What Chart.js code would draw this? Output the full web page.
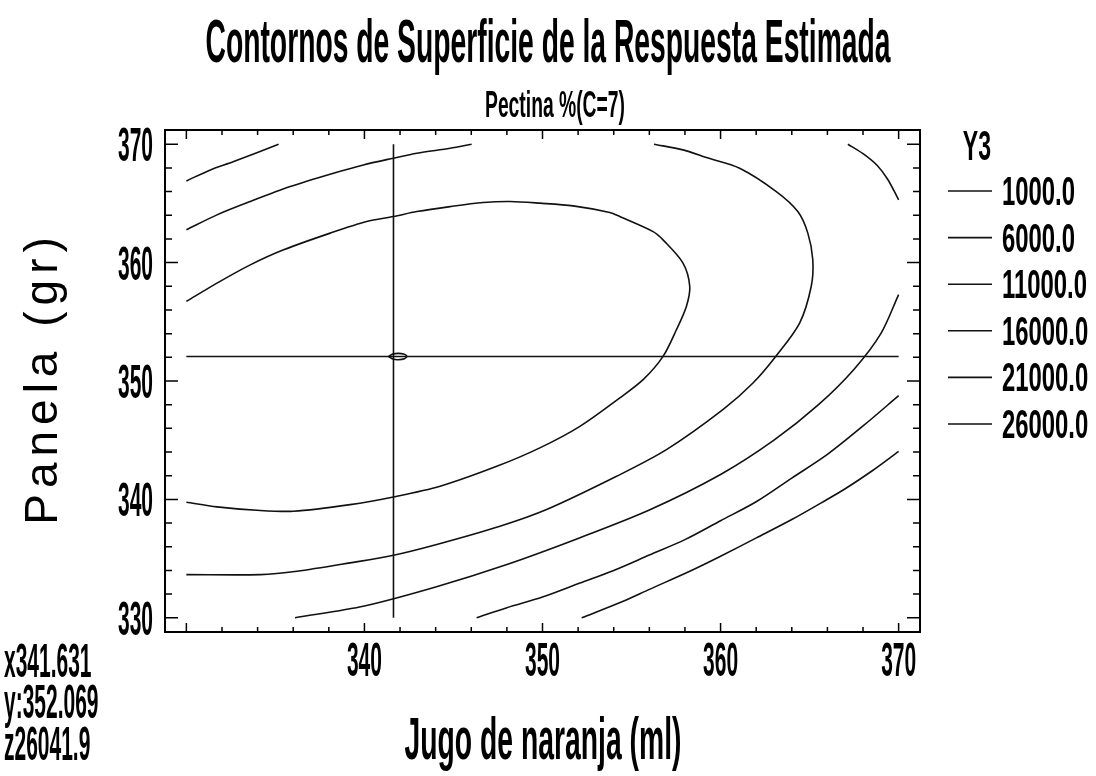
<!DOCTYPE html>
<html>
<head>
<meta charset="utf-8">
<script src="https://cdn.jsdelivr.net/npm/chart.js@4.4.0/dist/chart.umd.min.js"></script>
<style>
html,body{margin:0;padding:0;background:#fff;}
#wrap{width:1096px;height:776px;position:relative;}
</style>
</head>
<body>
<div id="wrap"><canvas id="c"></canvas></div>
<script>
// ---- DATA ----
const levels = [1000, 6000, 11000, 16000, 21000, 26000];

const c1000 = [[352.2,330.0],[354.53,331.40],[356.0,332.4],[358.27,333.93],[360.0,335.2],[362.01,336.75],[364.0,338.3],[365.93,339.95],[367.0,340.9],[368.5,342.4],[370.0,344.06]];

const c6000 = [[346.3,330.0],[348.0,330.85],[350.0,331.75],[352.10,332.93],[354.0,334.0],[356.0,335.3],[358.0,336.6],[360.0,338.2],[362.0,339.8],[364.0,341.8],[366.0,343.8],[368.0,346.2],[370.0,348.76]];

const c11000_a = [[330.0,366.90],[331.35,367.83],[332.66,368.53],[335.18,370.0]];
const c11000_b = [[367.15,370.0],[368.0,369.2],[368.8,368.2],[369.4,367.0],[370.0,365.3]];
const c11000_c = [[370.0,357.3],[369.0,354.0],[367.5,351.0],[365.5,348.0],[363.0,345.0],[360.0,342.1],[356.0,339.1],[352.0,336.7],[348.0,334.5],[344.0,332.6],[340.0,331.0],[336.1,330.0]];

const c16000_a = [[330.0,362.77],[331.72,364.03],[333.59,365.16],[335.83,366.42],[338.26,367.55],[339.94,368.25],[341.63,368.82],[342.94,369.24],[344.81,369.66],[346.02,370.0]];
const c16000_b = [[356.26,370.0],[357.89,369.52],[359.20,368.87],[361.07,367.97],[363.13,366.0],[364.34,364.31],[364.90,362.49],[365.18,360.24],[365.09,357.98],[364.44,354.89],[363.13,352.14],[361.82,349.83],[360.13,347.58],[356.96,344.20],[354.16,341.95],[350.23,339.14],[347.61,337.73],[344.06,336.19],[341.63,335.28],[339.20,334.64],[336.21,333.93],[334.15,333.65],[330.0,333.65]];

const c21000 = [[330.0,356.72],[331.72,358.27],[333.59,359.81],[335.46,361.08],[338.08,362.49],[340.13,363.47],[341.63,363.89],[342.94,364.31],[344.81,364.73],[346.67,365.07],[348.17,365.16],[349.85,365.02],[351.72,364.79],[353.78,364.23],[354.34,363.89],[356.21,362.62],[356.77,361.92],[357.89,359.96],[358.27,357.98],[358.08,356.30],[357.52,354.33],[356.77,352.08],[355.65,350.11],[354.34,348.57],[352.10,346.17],[349.85,344.35],[347.43,342.79],[344.25,341.11],[341.63,340.21],[339.20,339.56],[336.02,339.00],[333.97,339.08],[331.72,339.37],[330.0,339.76]];

const c26000 = [[341.35,352.07],[341.6,352.28],[341.9,352.33],[342.2,352.28],[342.38,352.10],[342.25,351.88],[341.9,351.80],[341.6,351.85],[341.35,352.07]];

const crossX = 341.631, crossY = 352.069, crossZ = 26041.9;
const gridMin = 330, gridMax = 370;

const minorTicks = [330,332,334,336,338,340,342,344,346,348,350,352,354,356,358,360,362,364,366,368,370];
const majorTicks = [330,340,350,360,370];
const xTickLabels = ['340','350','360','370'];
const xTickValues = [340,350,360,370];
const yTickLabels = ['330','340','350','360','370'];
const yTickValues = [330,340,350,360,370];

const titleText = 'Contornos de Superficie de la Respuesta Estimada';
const subtitleText = 'Pectina %(C=7)';
const xTitleText = 'Jugo de naranja (ml)';
const yTitleText = 'Panela (gr)';
const legendTitle = 'Y3';

// ---- build datasets ----
function toPts(segs){
  const out = [];
  segs.forEach((s,i)=>{
    if(i>0) out.push({x:null,y:null});
    s.forEach(p=>out.push({x:p[0],y:p[1]}));
  });
  return out;
}
const levelSegments = {
  1000:[c1000], 6000:[c6000], 11000:[c11000_a,c11000_b,c11000_c],
  16000:[c16000_a,c16000_b], 21000:[c21000], 26000:[c26000]
};
const lineStyle = {showLine:true, pointRadius:0, borderColor:'#111', borderWidth:1.6, tension:0.3, fill:false};
const datasets = levels.map(l => Object.assign({label: l.toFixed(1), data: toPts(levelSegments[l])}, lineStyle));
datasets.push(Object.assign({}, lineStyle, {label:'crossV', tension:0, data:[{x:crossX,y:gridMin},{x:crossX,y:gridMax}]}));
datasets.push(Object.assign({}, lineStyle, {label:'crossH', tension:0, data:[{x:gridMin,y:crossY},{x:gridMax,y:crossY}]}));

// ---- text helpers ----
const FAM = '"Liberation Sans", Arial, sans-serif';
function condText(ctx, text, x, y, size, sx, align, weight){
  ctx.save();
  ctx.font = (weight||'bold') + ' ' + size + 'px ' + FAM;
  ctx.translate(x, y);
  ctx.scale(sx, 1);
  ctx.textAlign = align || 'left';
  ctx.textBaseline = 'alphabetic';
  ctx.fillStyle = '#000';
  ctx.fillText(text, 0, 0);
  ctx.restore();
}
function measure(ctx, text, size, weight){
  ctx.save();
  ctx.font = (weight||'bold') + ' ' + size + 'px ' + FAM;
  const w = ctx.measureText(text).width;
  ctx.restore();
  return w;
}
function fitText(ctx, text, x, y, size, width, align, weight){
  condText(ctx, text, x, y, size, width / measure(ctx, text, size, weight), align, weight);
}

const bgPlugin = {
  id:'bg',
  beforeDraw(chart){
    const ctx = chart.ctx;
    ctx.save(); ctx.fillStyle='#fff'; ctx.fillRect(0,0,chart.width,chart.height); ctx.restore();
  }
};

const decorPlugin = {
  id:'decor',
  afterDraw(chart){
    const ctx = chart.ctx, ca = chart.chartArea;
    const xs = chart.scales.x, ys = chart.scales.y;
    ctx.save();
    ctx.strokeStyle = '#000';
    ctx.lineWidth = 2;
    ctx.strokeRect(ca.left, ca.top, ca.right-ca.left, ca.bottom-ca.top);
    ctx.lineWidth = 1.5;
    ctx.beginPath();
    minorTicks.forEach(v=>{
      const major = majorTicks.includes(v);
      const px = xs.getPixelForValue(v);
      const lx = major ? 9 : 5;
      ctx.moveTo(px, ca.bottom); ctx.lineTo(px, ca.bottom-lx);
      ctx.moveTo(px, ca.top); ctx.lineTo(px, ca.top+lx);
      const py = ys.getPixelForValue(v);
      const ly = major ? 13 : 7;
      ctx.moveTo(ca.left, py); ctx.lineTo(ca.left+ly, py);
      ctx.moveTo(ca.right, py); ctx.lineTo(ca.right-ly, py);
    });
    ctx.stroke();
    ctx.restore();

    // digit condense factor
    const dsz = 48;
    const dsx = 35 / measure(ctx, '340', dsz);

    // tick labels
    xTickValues.forEach((v,i)=>{
      condText(ctx, xTickLabels[i], xs.getPixelForValue(v), 676, dsz, dsx, 'center');
    });
    yTickValues.forEach((v,i)=>{
      condText(ctx, yTickLabels[i], 153, ys.getPixelForValue(v)+17, dsz, dsx, 'right');
    });

    // titles
    fitText(ctx, titleText, 548, 62, 62, 685, 'center');
    fitText(ctx, subtitleText, 555, 117, 36, 140, 'center');
    fitText(ctx, xTitleText, 543, 759, 60, 277, 'center');

    // y title, rotated, spaced
    ctx.save();
    ctx.translate(44, 381);
    ctx.rotate(-Math.PI/2);
    ctx.font = 'normal 46px ' + FAM;
    ctx.letterSpacing = '6px';
    ctx.textAlign = 'center';
    ctx.textBaseline = 'middle';
    ctx.fillStyle = '#000';
    ctx.fillText(yTitleText, 3, 0);
    ctx.restore();

    // crosshair readout
    condText(ctx, 'x' + crossX.toFixed(3), 4, 677, dsz, dsx, 'left');
    condText(ctx, 'y:' + crossY.toFixed(3), 4, 718, dsz, dsx, 'left');
    condText(ctx, 'z' + crossZ.toFixed(1), 4, 760, dsz, dsx, 'left');

    // legend
    condText(ctx, legendTitle, 977, 160, 42, 0.55, 'center');
    const lsz = 40;
    const lsx = 73 / measure(ctx, '1000.0', lsz);
    const rowY0 = 191, rowStep = 46.6;
    ctx.save();
    ctx.strokeStyle = '#111'; ctx.lineWidth = 1.6;
    levels.forEach((l,i)=>{
      const y = rowY0 + i*rowStep;
      ctx.beginPath(); ctx.moveTo(948, y); ctx.lineTo(992, y); ctx.stroke();
      condText(ctx, l.toFixed(1), 1002, y+14, lsz, lsx, 'left');
    });
    ctx.restore();
  }
};

new Chart(document.getElementById('c'), {
  type:'scatter',
  data:{datasets},
  options:{
    responsive:true,
    maintainAspectRatio:false,
    animation:false,
    layout:{padding:{left:165, right:176, top:130, bottom:144}},
    scales:{
      x:{type:'linear', min:328.8, max:371.2, display:false},
      y:{type:'linear', min:328.8, max:371.2, display:false}
    },
    plugins:{legend:{display:false}, tooltip:{enabled:false}}
  },
  plugins:[bgPlugin, decorPlugin]
});
</script>
</body>
</html>
